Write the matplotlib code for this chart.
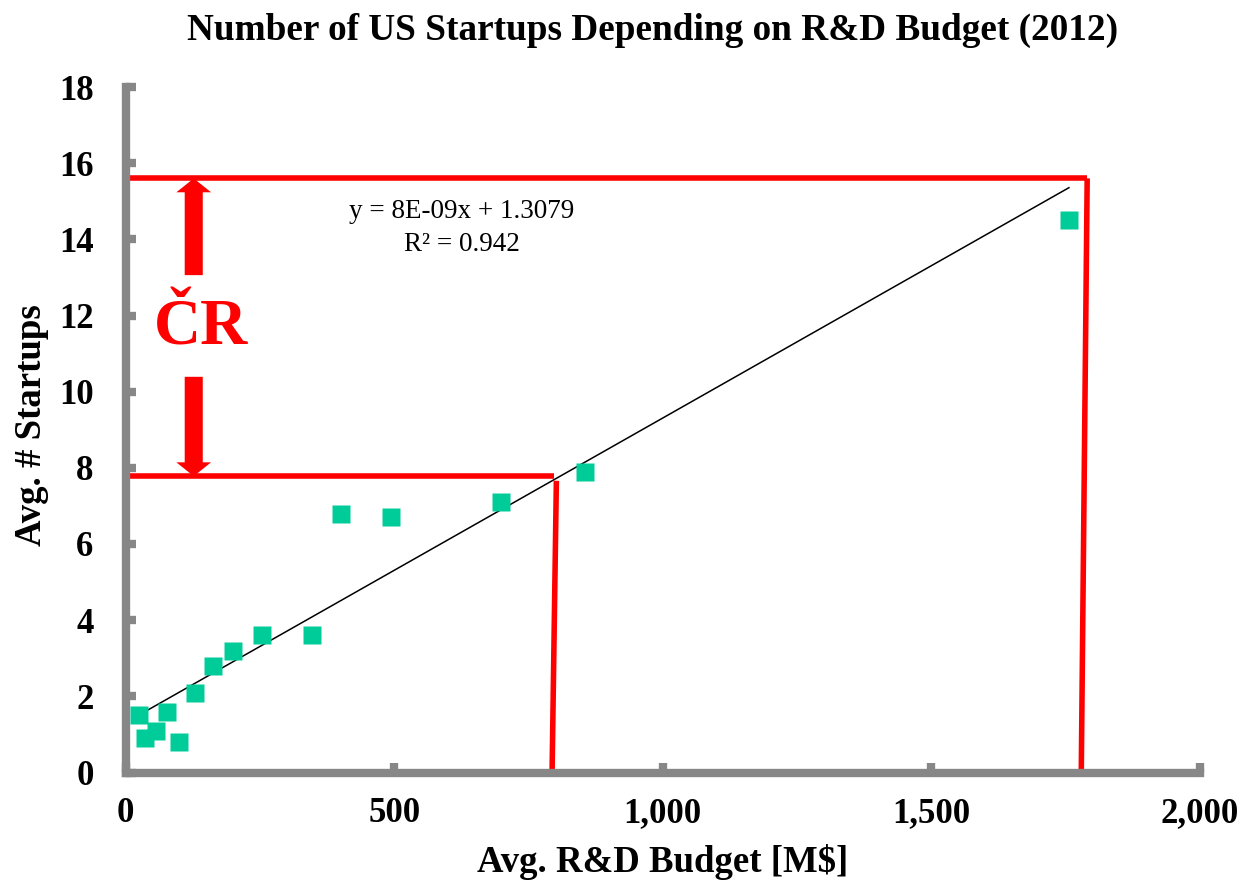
import matplotlib
matplotlib.use("Agg")
import matplotlib.pyplot as plt
from matplotlib.ticker import FuncFormatter

plt.rcParams['font.family'] = ['Liberation Serif', 'DejaVu Serif']

# data (R&D budget in M$, avg number of startups)
budget = [25, 37, 56, 78, 100, 130, 162, 201, 255, 348, 402, 495, 698, 856, 1756]
startups = [1.5, 0.9, 1.1, 1.6, 0.8, 2.1, 2.8, 3.2, 3.6, 3.6, 6.8, 6.7, 7.1, 7.9, 14.5]

# Excel trendline (slope shown per $ -> per M$)
slope = 0.008
intercept = 1.3079

# red "CR" bracket levels
cr_high = 15.6
cr_low = 7.78
x_high_top, x_high_bot = 1790, 1779
x_low_top, x_low_bot = 802, 794
arrow_x = 127
arrow_top_shaft = 13.06
arrow_bot_shaft = 10.39

fig = plt.figure(figsize=(12.48, 8.84), dpi=100)
ax = fig.add_axes([125.5 / 1248, 1 - 772.5 / 884, (1200 - 125.5) / 1248, (772.5 - 87) / 884])

# red construction lines
ax.plot([0, x_high_top], [cr_high, cr_high], color='red', lw=4, solid_capstyle='butt', zorder=2)
ax.plot([x_high_top, x_high_bot], [cr_high, 0], color='red', lw=4, solid_capstyle='butt', zorder=2)
ax.plot([0, x_low_top - 4], [cr_low, cr_low], color='red', lw=4, solid_capstyle='butt', zorder=2)
ax.plot([x_low_top, x_low_bot], [cr_low - 0.12, 0], color='red', lw=4, solid_capstyle='butt', zorder=2)

# double arrow broken by the label
astyle = 'simple,head_length=1.0,head_width=2.5,tail_width=1.3'
ax.annotate('', xy=(arrow_x, cr_high), xytext=(arrow_x, arrow_top_shaft),
            arrowprops=dict(arrowstyle=astyle, fc='red', ec='none', shrinkA=0, shrinkB=0,
                            mutation_scale=10))
ax.annotate('', xy=(arrow_x, cr_low), xytext=(arrow_x, arrow_bot_shaft),
            arrowprops=dict(arrowstyle=astyle, fc='red', ec='none', shrinkA=0, shrinkB=0,
                            mutation_scale=10))
ax.text(140, 11.65, 'ČR', color='red', fontsize=47, fontweight='bold',
        ha='center', va='center')

# trendline
xs = [min(budget), max(budget)]
ax.plot(xs, [slope * v + intercept for v in xs], color='black', lw=1.1, zorder=3)

ax.plot(budget, startups, linestyle='none', marker='s', ms=12.5,
        color='#00CC99', mec='none', zorder=4)

ax.text(626, 14.3, 'y = 8E-09x + 1.3079\nR² = 0.942', fontsize=19.5,
        ha='center', va='center', linespacing=1.4)

ax.set_xlim(0, 2000)
ax.set_ylim(0, 18)
ax.set_xticks([0, 500, 1000, 1500, 2000])
ax.set_yticks(range(0, 19, 2))
ax.xaxis.set_major_formatter(FuncFormatter(lambda v, p: f'{int(v):,}'))

for s in ['top', 'right']:
    ax.spines[s].set_visible(False)
for s in ['left', 'bottom']:
    ax.spines[s].set_color('#878787')
    ax.spines[s].set_linewidth(6)
    ax.spines[s].set_capstyle('projecting')
ax.tick_params(direction='in', length=7, width=6, color='#878787', labelsize=25)
ax.tick_params(axis='x', pad=18)
ax.tick_params(axis='y', pad=23)
for lab in ax.get_xticklabels() + ax.get_yticklabels():
    lab.set_fontweight('bold')

fig.text(653 / 1248, 1 - 30 / 884, 'Number of US Startups Depending on R&D Budget (2012)',
         fontsize=26.8, fontweight='bold', ha='center', va='center')
fig.text(663 / 1248, 1 - 862 / 884, 'Avg. R&D Budget [M$]',
         fontsize=26.5, fontweight='bold', ha='center', va='center')
fig.text(32 / 1248, 1 - 425 / 884, 'Avg. # Startups', rotation=90,
         fontsize=26.5, fontweight='bold', ha='center', va='center')

fig.savefig('out.png', dpi=100)
